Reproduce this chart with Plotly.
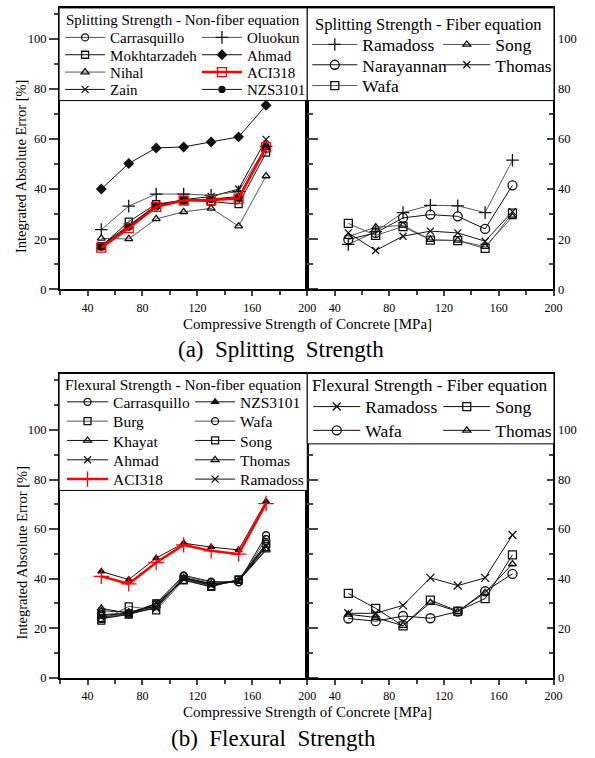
import plotly.graph_objects as go

FONT = "Liberation Serif"
W, H = 595, 758

x_vals = [50, 70, 90, 110, 130, 150, 170]

# (a) Splitting strength - non-fiber equations
sp_carrasquillo = [17.0, 25.0, 33.0, 35.5, 36.0, 36.5, 56.0]
sp_mokhtarzadeh = [17.2, 27.0, 34.0, 35.5, 35.0, 34.0, 54.5]
sp_nihal = [20.3, 20.1, 28.1, 30.9, 32.3, 25.2, 45.2]
sp_zain = [17.5, 25.5, 33.5, 35.8, 37.0, 40.0, 59.8]
sp_oluokun = [23.8, 33.2, 38.0, 38.0, 37.5, 39.0, 57.0]
sp_ahmad = [40.0, 50.2, 56.4, 56.8, 58.8, 60.8, 73.4]
sp_aci318 = [16.6, 24.4, 32.9, 35.4, 35.6, 36.2, 56.6]
sp_nzs3101 = [17.0, 25.0, 33.5, 35.5, 36.0, 37.0, 57.0]

# (a) Splitting strength - fiber equations
spf_ramadoss = [17.9, 23.0, 30.6, 33.5, 33.3, 30.6, 51.5]
spf_narayannan = [19.9, 22.5, 28.5, 29.8, 29.1, 24.1, 41.5]
spf_wafa = [26.3, 21.5, 25.0, 19.6, 19.4, 16.3, 30.4]
spf_song = [21.0, 24.8, 25.5, 19.8, 19.5, 17.0, 28.9]
spf_thomas = [22.5, 15.5, 21.2, 23.2, 22.5, 19.2, 31.0]

# (b) Flexural strength - non-fiber equations
fl_carrasquillo = [25.5, 26.0, 30.0, 41.3, 38.8, 38.6, 57.5]
fl_burg = [23.0, 28.8, 27.2, 39.5, 37.0, 39.5, 54.0]
fl_khayat = [28.0, 26.0, 29.0, 40.0, 37.5, 39.0, 51.5]
fl_ahmad = [24.5, 25.5, 28.5, 40.5, 38.0, 39.0, 53.0]
fl_aci318 = [40.9, 37.9, 46.5, 53.6, 51.2, 49.9, 70.3]
fl_nzs3101 = [42.9, 39.6, 48.3, 54.3, 52.7, 51.6, 71.2]
fl_wafa = [24.0, 25.8, 29.5, 41.0, 38.5, 38.5, 56.0]
fl_song = [23.8, 25.5, 30.0, 39.3, 36.7, 39.7, 54.0]
fl_thomas = [27.0, 26.5, 29.0, 40.2, 37.8, 39.2, 52.0]
fl_ramadoss = [25.0, 26.0, 28.0, 40.0, 37.3, 39.0, 53.5]

# (b) Flexural strength - fiber equations
flf_ramadoss = [26.0, 26.0, 29.2, 40.3, 37.2, 40.3, 57.6]
flf_song = [34.0, 28.0, 20.9, 31.3, 26.9, 31.9, 49.6]
flf_wafa = [23.9, 22.8, 24.9, 24.0, 26.7, 34.9, 41.9]
flf_thomas = [25.6, 24.3, 21.0, 30.3, 26.7, 34.3, 45.9]

x_ticks = [40, 80, 120, 160, 200]
y_ticks = [0, 20, 40, 60, 80, 100]

BLK = "#111111"
GRY = "#555555"
RED = "#ff0000"

# layout geometry (pixels)
XL = (61, 312)
XR = (312, 562)
TOP = (8, 292, 112.25)     # top px, zero px, range max
BOT = (377, 684, 122.8)


def px(x):
    return x / W


def py(y):
    return 1 - y / H


fig = go.Figure()

axes = {
    "TL": ("x", "y", XL, TOP, "left"),
    "TR": ("x2", "y2", XR, TOP, "right"),
    "BL": ("x3", "y3", XL, BOT, "left"),
    "BR": ("x4", "y4", XR, BOT, "right"),
}

for key, (xa, ya, xd, yd, side) in axes.items():
    xname = "xaxis" + xa[1:]
    yname = "yaxis" + ya[1:]
    fig.layout[xname] = dict(
        domain=[px(xd[0]), px(xd[1])], range=[20, 200], anchor=ya,
        tickvals=x_ticks, ticks="outside", ticklen=5, tickwidth=1.5,
        minor=dict(dtick=20, tick0=20, ticks="outside", ticklen=4, tickwidth=1.5),
        showline=True, linewidth=2, linecolor="black", mirror=True,
        showgrid=False, zeroline=False, ticklabelstandoff=1,
        tickfont=dict(family=FONT, size=12, color="black"),
    )
    if side == "left":
        tdir, tl, mtl = "outside", 9, 4
    else:
        tdir, tl, mtl = "inside", 6, 4
    fig.layout[yname] = dict(
        domain=[py(yd[1]), py(yd[0])], range=[0, yd[2]], anchor=xa, side=side,
        tickvals=y_ticks, ticks=tdir, ticklen=tl, tickwidth=1.5,
        minor=dict(dtick=10, tick0=0, ticks=tdir, ticklen=mtl, tickwidth=1.5),
        showline=True, linewidth=2, linecolor="black", mirror="ticks",
        showgrid=False, zeroline=False,
        tickfont=dict(family=FONT, size=12.5, color="black"),
    )

legend_count = [1]


def new_legend(x_line_start, text_start, y_center, size):
    legend_count[0] += 1
    name = "legend%d" % legend_count[0]
    lx = x_line_start - 5
    iw = max(30, text_start - lx - 10)
    fig.layout[name] = dict(
        x=px(lx), y=py(y_center), xanchor="left", yanchor="middle",
        xref="paper", yref="paper",
        bgcolor="rgba(0,0,0,0)", borderwidth=0, itemwidth=iw,
        font=dict(family=FONT, size=size, color="black"),
        tracegroupgap=0,
    )
    return name


def add(series, name, xa, ya, symbol, color, lcolor, leg, msize=7, lw=1, mfill=None):
    marker = dict(symbol=symbol, size=msize, color=mfill if mfill else color,
                  line=dict(width=1.3, color=color))
    fig.add_trace(go.Scatter(
        x=x_vals, y=series, name=name, mode="lines+markers",
        xaxis=xa, yaxis=ya, line=dict(color=lcolor, width=lw),
        marker=marker, legend=leg, showlegend=True,
    ))


TL_c1 = (66, 111)
TL_c2 = (205, 250)
TL_rows = [38, 55.5, 73, 90.5]
fs1 = 15
add(sp_carrasquillo, "Carrasquillo", "x", "y", "circle-open", BLK, GRY, new_legend(*TL_c1, TL_rows[0], fs1))
add(sp_mokhtarzadeh, "Mokhtarzadeh", "x", "y", "square-open", BLK, BLK, new_legend(*TL_c1, TL_rows[1], fs1))
add(sp_nihal, "Nihal", "x", "y", "triangle-up-open", BLK, GRY, new_legend(*TL_c1, TL_rows[2], fs1))
add(sp_zain, "Zain", "x", "y", "x-thin-open", BLK, BLK, new_legend(*TL_c1, TL_rows[3], fs1), msize=7)
add(sp_oluokun, "Oluokun", "x", "y", "cross-thin-open", BLK, GRY, new_legend(*TL_c2, TL_rows[0], fs1), msize=9)
add(sp_ahmad, "Ahmad", "x", "y", "diamond", BLK, BLK, new_legend(*TL_c2, TL_rows[1], fs1), msize=7)
add(sp_nzs3101, "NZS3101", "x", "y", "circle", BLK, BLK, new_legend(*TL_c2, TL_rows[3], fs1), msize=6)
add(sp_aci318, "ACI318", "x", "y", "square-open", RED, RED, new_legend(*TL_c2, TL_rows[2], fs1), msize=9, lw=2.5)

TR_c1 = (317, 367)
TR_c2 = (450, 502)
TR_rows = [45, 65.5, 86.5]
fs2 = 17.5
add(spf_ramadoss, "Ramadoss", "x2", "y2", "cross-thin-open", BLK, GRY, new_legend(*TR_c1, TR_rows[0], fs2), msize=9)
add(spf_narayannan, "Narayannan", "x2", "y2", "circle-open", BLK, BLK, new_legend(*TR_c1, TR_rows[1], fs2), msize=9)
add(spf_wafa, "Wafa", "x2", "y2", "square-open", BLK, GRY, new_legend(*TR_c1, TR_rows[2], fs2), msize=8)
add(spf_song, "Song", "x2", "y2", "triangle-up-open", BLK, GRY, new_legend(*TR_c2, TR_rows[0], fs2), msize=7)
add(spf_thomas, "Thomas", "x2", "y2", "x-thin-open", BLK, BLK, new_legend(*TR_c2, TR_rows[1], fs2), msize=7)

BL_c1 = (68, 114)
BL_c2 = (198, 243)
BL_rows = [406, 425.5, 445, 464.5, 484]
fs3 = 15.5
add(fl_carrasquillo, "Carrasquillo", "x3", "y3", "circle-open", BLK, BLK, new_legend(*BL_c1, BL_rows[0], fs3))
add(fl_burg, "Burg", "x3", "y3", "square-open", BLK, GRY, new_legend(*BL_c1, BL_rows[1], fs3))
add(fl_khayat, "Khayat", "x3", "y3", "triangle-up-open", BLK, BLK, new_legend(*BL_c1, BL_rows[2], fs3))
add(fl_ahmad, "Ahmad", "x3", "y3", "x-thin-open", BLK, BLK, new_legend(*BL_c1, BL_rows[3], fs3))
add(fl_nzs3101, "NZS3101", "x3", "y3", "triangle-up", BLK, BLK, new_legend(*BL_c2, BL_rows[0], fs3), msize=6)
add(fl_wafa, "Wafa", "x3", "y3", "circle-open", BLK, GRY, new_legend(*BL_c2, BL_rows[1], fs3))
add(fl_song, "Song", "x3", "y3", "square-open", BLK, BLK, new_legend(*BL_c2, BL_rows[2], fs3))
add(fl_thomas, "Thomas", "x3", "y3", "triangle-up-open", BLK, BLK, new_legend(*BL_c2, BL_rows[3], fs3))
add(fl_ramadoss, "Ramadoss", "x3", "y3", "x-thin-open", BLK, BLK, new_legend(*BL_c2, BL_rows[4], fs3))
add(fl_aci318, "ACI318", "x3", "y3", "cross-thin-open", RED, RED, new_legend(*BL_c1, BL_rows[4], fs3), msize=11, lw=2.5)

BR_c1 = (318, 370)
BR_c2 = (450, 502)
BR_rows = [410.5, 434.5]
fs4 = 17.5
add(flf_ramadoss, "Ramadoss", "x4", "y4", "x-thin-open", BLK, BLK, new_legend(*BR_c1, BR_rows[0], fs4), msize=8)
add(flf_wafa, "Wafa", "x4", "y4", "circle-open", BLK, BLK, new_legend(*BR_c1, BR_rows[1], fs4), msize=9)
add(flf_song, "Song", "x4", "y4", "square-open", BLK, BLK, new_legend(*BR_c2, BR_rows[0], fs4), msize=8)
add(flf_thomas, "Thomas", "x4", "y4", "triangle-up-open", BLK, BLK, new_legend(*BR_c2, BR_rows[1], fs4), msize=7)

boxes = [(60, 8, 312, 101.5), (312, 8, 562.5, 101.5), (60, 377, 312, 495), (312, 377, 562.5, 448)]
shapes = []
for x0, y0, x1, y1 in boxes:
    shapes.append(dict(type="rect", xref="paper", yref="paper", x0=px(x0), x1=px(x1),
                       y0=py(y1), y1=py(y0), fillcolor="white",
                       line=dict(color="black", width=1), layer="above"))

annotations = []


def text(t, x, y, size, angle=0):
    annotations.append(dict(text=t, x=px(x), y=py(y), xref="paper", yref="paper",
                            xanchor="center", yanchor="middle", showarrow=False,
                            textangle=angle, font=dict(family=FONT, size=size, color="black")))


text("Splitting Strength - Non-fiber equation", 186, 20, 15)
text("Splitting Strength - Fiber equation", 435, 25, 16.5)
text("Flexural Strength - Non-fiber equation", 186, 388, 15.3)
text("Flexural Strength - Fiber equation", 437, 389, 17.3)
text("Compressive Strength of Concrete [MPa]", 312, 327, 15)
text("Compressive Strength of Concrete [MPa]", 312, 719, 15)
text("Integrated Absolute Error [%]", 22, 168, 14.5, -90)
text("Integrated Absolute Error [%]", 22, 558, 14.5, -90)
text("(a)\u00a0\u00a0Splitting\u00a0\u00a0Strength", 285, 353, 23)
text("(b)\u00a0\u00a0Flexural\u00a0\u00a0Strength", 278, 745, 23)

fig.update_layout(
    width=W, height=H, autosize=False,
    margin=dict(l=0, r=0, t=0, b=0),
    paper_bgcolor="white", plot_bgcolor="white",
    shapes=shapes, annotations=annotations,
    font=dict(family=FONT, color="black"),
)

fig.write_html("out.html")
